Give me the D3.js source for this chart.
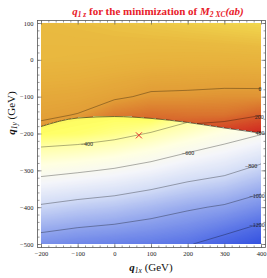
<!DOCTYPE html>
<html>
<head>
<meta charset="utf-8">
<script src="https://cdn.jsdelivr.net/npm/d3@7"></script>
<style>
  body { margin: 0; background: #fff; }
  svg { display: block; }
  text { font-family: "Liberation Serif", "Times New Roman", serif; }
</style>
</head>
<body>
<svg id="chart" width="267" height="278"></svg>
<script>
// grid columns (GeV) shared by both branches
const xGrid = [-200, -100, 0, 100, 200, 300, 400];

// upper branch (above the discontinuity), rows top -> bottom
const upperY = [100, 0, -100, -150, -200];
const upperValues = [
  [-170, -180, -195, -210, -225, -240, -255],
  [-150, -145, -135, -125, -120, -120, -125],
  [ -60,  -50,  -20,   20,   25,   35,   35],
  [ -20,    5,  100,  140,  130,  130,  195],
  [  45,   80,  200,  260,  270,  330,  420]
];

// lower branch (below the discontinuity)
const lowerY = [-100, -200, -300, -400, -500];
const lowerValues = [
  [ -250,  -265,  -234,  -147,  -239,  -305,  -362],
  [ -310,  -322,  -356,  -408,  -470,  -534,  -592],
  [ -555,  -582,  -614,  -659,  -719,  -763,  -843],
  [ -820,  -857,  -883,  -928,  -979, -1018, -1088],
  [-1080, -1114, -1135, -1158, -1189, -1261, -1340]
];

// the jump between the two branches
const boundaryX = [-200, -100, 0, 100, 200, 300, 400];
const boundaryY = [-181, -158, -154, -159, -170, -185, -199];

const upperLevels = [0, 200, 400];
const lowerLevels = [-400, -600, -800, -1000, -1200];

const labelText = ['0', '200', '400', '−400', '−600', '−800', '−1000', '−1200'];
const labelX = [397, 395, 397, -75, 201, 373, 389, 389];
const labelY = [-79, -155, -199, -229, -253, -288, -370, -448];

const minimum = [67, -205];

const xTicks = [-200, -100, 0, 100, 200, 300, 400];
const yTicks = [100, 0, -100, -200, -300, -400, -500];

// colour map: blue -> white -> yellow -> orange -> red
const colorValues = [-1350, -1200, -1000, -800, -650, -520, -400, -310, -280, -250, -170, -100, 0, 100, 200, 300, 420];
const colorRange = ['#3250e0', '#5570e6', '#91a5ed', '#d2dcf6', '#f4f5fa', '#ffffe1', '#ffffa5', '#ffff64',
                    '#faf05a', '#f1d64e', '#e9ba40', '#e7b03c', '#e29e37', '#dc7d30', '#d65c2b', '#d44126', '#ce2622'];

const svg = d3.select('#chart');
const x = d3.scaleLinear().domain([-200, 400]).range([41, 261]);
const y = d3.scaleLinear().domain([-500, 100]).range([244, 23]);
const color = d3.scaleLinear().domain(colorValues).range(colorRange).clamp(true);

const frame = { l: 37.5, r: 265.5, t: 20.5, b: 247.5 };

const boundaryPts = boundaryX.map((d, i) => [d, boundaryY[i]]);
const boundaryLine = d3.line().x(d => x(d[0])).y(d => y(d[1])).curve(d3.curveMonotoneX);

const defs = svg.append('defs');
defs.append('clipPath').attr('id', 'clip-up').append('path')
  .attr('d', boundaryLine(boundaryPts) + `L${x(400)},${y(100)}L${x(-200)},${y(100)}Z`);
defs.append('clipPath').attr('id', 'clip-down').append('path')
  .attr('d', boundaryLine(boundaryPts) + `L${x(400)},${y(-500)}L${x(-200)},${y(-500)}Z`);

function drawField(values, ys, clipId, levels) {
  const n = xGrid.length, m = ys.length;
  const flat = values.flat();
  // grid index -> pixel (rows may be unevenly spaced)
  const ix = d3.scaleLinear().domain(d3.range(n)).range(xGrid.map(x));
  const iy = d3.scaleLinear().domain(d3.range(m)).range(ys.map(y));
  const proj = d3.geoTransform({
    point(px, py) { this.stream.point(ix(px - 0.5), iy(py - 0.5)); }
  });
  const path = d3.geoPath(proj);
  const g = svg.append('g').attr('clip-path', `url(#${clipId})`);

  const lo = Math.floor(d3.min(flat) / 10) * 10 - 10;
  const bands = d3.contours().size([n, m]).thresholds(d3.range(lo, d3.max(flat), 8))(flat);
  g.selectAll('path.band').data(bands).join('path')
    .attr('class', 'band')
    .attr('d', path)
    .attr('fill', d => color(d.value + 4));

  const lines = d3.contours().size([n, m]).thresholds(levels)(flat);
  g.selectAll('path.level').data(lines).join('path')
    .attr('class', 'level')
    .attr('d', path)
    .attr('fill', 'none')
    .attr('stroke', '#000')
    .attr('stroke-opacity', 0.45)
    .attr('stroke-width', 0.7);
}

drawField(upperValues, upperY, 'clip-up', upperLevels);
drawField(lowerValues, lowerY, 'clip-down', lowerLevels);

svg.append('path')
  .attr('d', boundaryLine(boundaryPts))
  .attr('fill', 'none')
  .attr('stroke', '#2a1a10')
  .attr('stroke-opacity', 0.75)
  .attr('stroke-width', 0.9);

// contour labels
svg.append('g').selectAll('text').data(labelText).join('text')
  .attr('x', (d, i) => x(labelX[i]))
  .attr('y', (d, i) => y(labelY[i]) + 2)
  .attr('text-anchor', 'middle')
  .attr('font-size', 6)
  .attr('fill', '#222')
  .text(d => d);

// the minimum
const mx = x(minimum[0]), my = y(minimum[1]);
svg.append('path')
  .attr('d', `M${mx - 3},${my - 3}L${mx + 3},${my + 3}M${mx - 3},${my + 3}L${mx + 3},${my - 3}`)
  .attr('stroke', '#e8302e')
  .attr('stroke-width', 1);

// frame + inward ticks on all sides
function ticks(axis, tx, ty, vals, size, labels) {
  const g = svg.append('g').attr('transform', `translate(${tx},${ty})`)
    .call(axis.tickValues(vals).tickSize(-size).tickPadding(4)
      .tickFormat(labels ? (d => d < 0 ? '−' + (-d) : d) : ''));
  g.select('.domain').remove();
  g.selectAll('line').attr('stroke', '#555').attr('stroke-width', 0.6);
  g.selectAll('text').attr('font-size', 6.5).attr('fill', '#222').attr('font-family', null);
  return g;
}
const xMinor = d3.range(-200, 401, 20), yMinor = d3.range(-500, 101, 20);
ticks(d3.axisBottom(x), 0, frame.b, xTicks, 4, true);
ticks(d3.axisBottom(x), 0, frame.b, xMinor, 2, false);
ticks(d3.axisTop(x), 0, frame.t, xTicks, 4, false);
ticks(d3.axisTop(x), 0, frame.t, xMinor, 2, false);
ticks(d3.axisLeft(y), frame.l, 0, yTicks, 4, true);
ticks(d3.axisLeft(y), frame.l, 0, yMinor, 2, false);
ticks(d3.axisRight(y), frame.r, 0, yTicks, 4, false);
ticks(d3.axisRight(y), frame.r, 0, yMinor, 2, false);

svg.append('rect')
  .attr('x', frame.l).attr('y', frame.t)
  .attr('width', frame.r - frame.l).attr('height', frame.b - frame.t)
  .attr('fill', 'none').attr('stroke', '#555').attr('stroke-width', 0.8);

// titles
const title = svg.append('text')
  .attr('x', 158).attr('y', 15)
  .attr('text-anchor', 'middle')
  .attr('font-size', 11).attr('font-weight', 'bold')
  .attr('fill', '#e8202a');
title.append('tspan').attr('font-style', 'italic').text('q');
title.append('tspan').attr('font-style', 'italic').attr('font-size', 7.5).attr('dy', 2).text('1 z');
title.append('tspan').attr('dy', -2).text(' for the minimization of ');
title.append('tspan').attr('font-style', 'italic').text('M');
title.append('tspan').attr('font-style', 'italic').attr('font-size', 7.5).attr('dy', 2).text('2 XC');
title.append('tspan').attr('font-style', 'italic').attr('dy', -2).text('(ab)');

function axisTitle(sub, tx, ty, rot) {
  const t = svg.append('text')
    .attr('transform', `translate(${tx},${ty}) rotate(${rot})`)
    .attr('text-anchor', 'middle')
    .attr('font-size', 11).attr('fill', '#111');
  t.append('tspan').attr('font-style', 'italic').attr('font-weight', 'bold').text('q');
  t.append('tspan').attr('font-style', 'italic').attr('font-size', 7.5).attr('dy', 2).text(sub);
  t.append('tspan').attr('dy', -2).text(' (GeV)');
}
axisTitle('1x', 151, 271, 0);
axisTitle('1y', 15, 113, -90);
</script>
</body>
</html>
